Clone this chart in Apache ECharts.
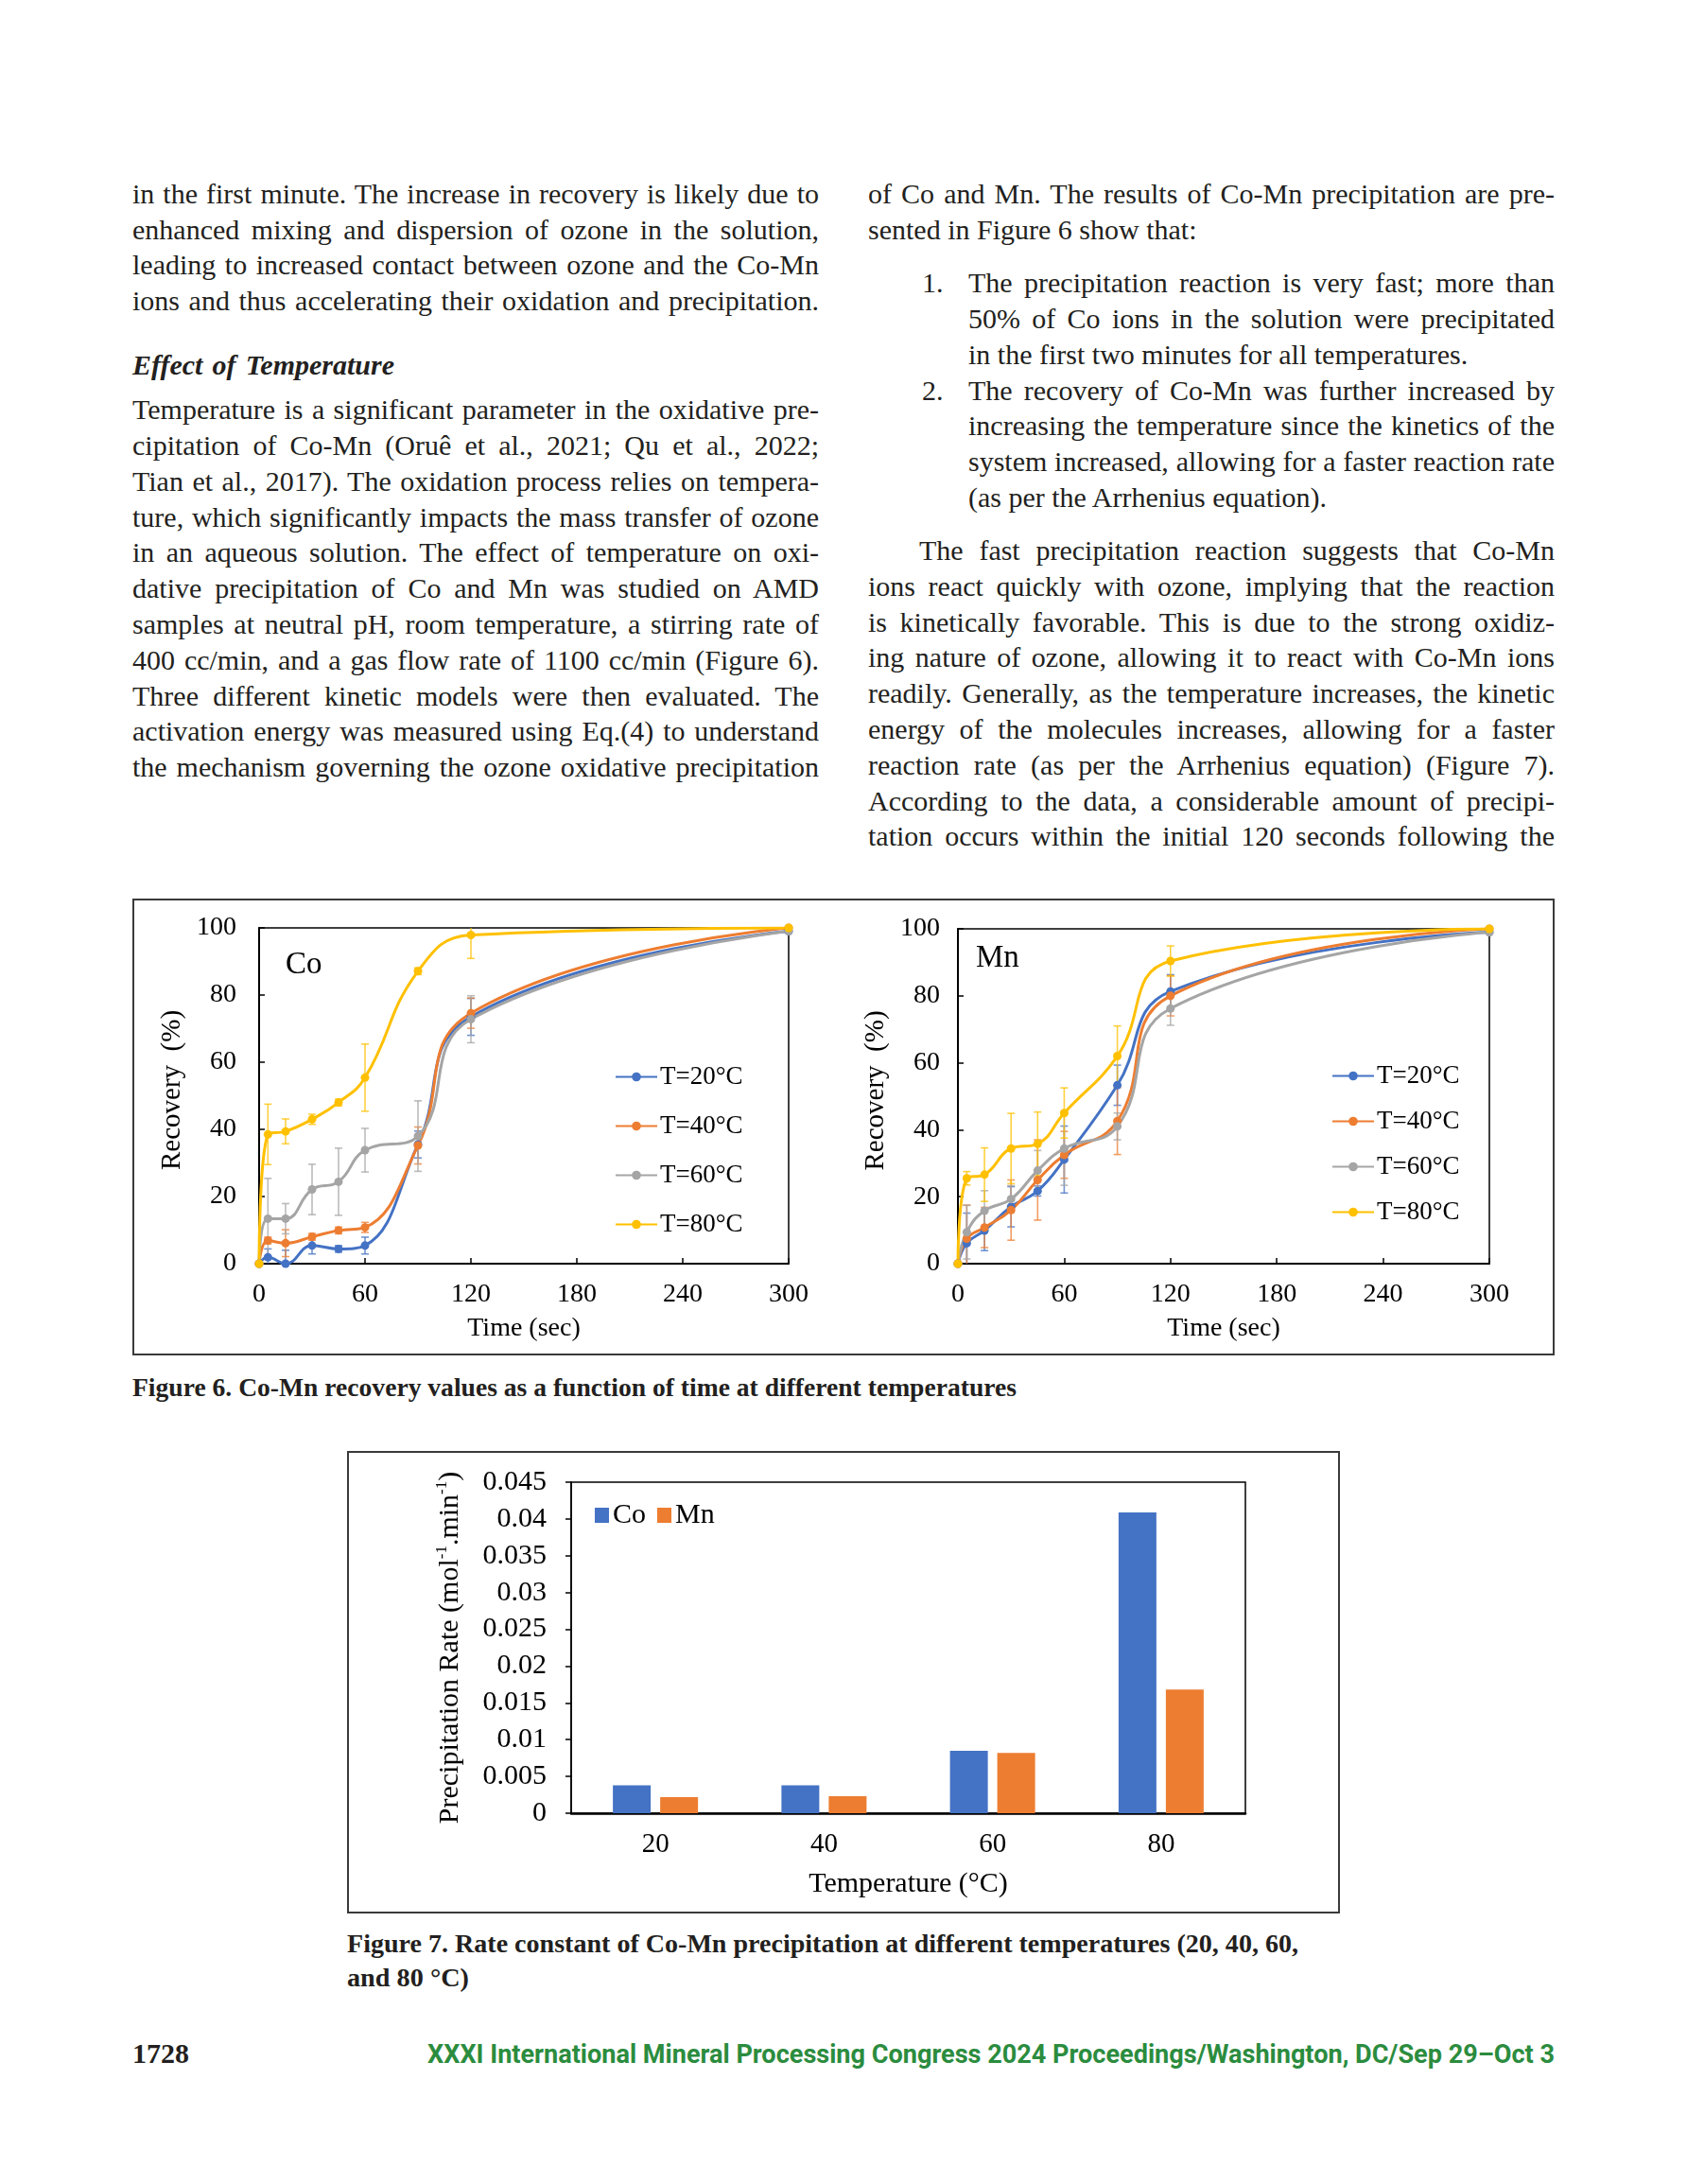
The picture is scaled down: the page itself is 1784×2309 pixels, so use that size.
<!DOCTYPE html>
<html><head><meta charset="utf-8">
<script src="https://cdn.jsdelivr.net/npm/echarts@6/dist/echarts.min.js"></script>
<style>
html,body{margin:0;padding:0;background:#fff;}
body{width:1784px;height:2309px;position:relative;overflow:hidden;font-family:'Liberation Serif',serif;color:#231f20;}
.ln{position:absolute;white-space:nowrap;font-size:30px;line-height:38px;height:38px;display:inline-block;}
.chart{position:absolute;}
.box{position:absolute;border:2px solid #3a3a3a;box-sizing:border-box;pointer-events:none;}
.cap{position:absolute;white-space:nowrap;font-weight:bold;font-size:28px;line-height:36px;transform-origin:0 50%;}
.foot{position:absolute;white-space:nowrap;transform-origin:0 50%;}
</style></head><body>
<div id="textLayer"></div>
<div class="box" style="left:140px;top:950px;width:1504px;height:483px;"></div>
<div id="coChart" class="chart" style="left:142px;top:952px;width:736px;height:479px;"></div>
<div id="mnChart" class="chart" style="left:880px;top:952px;width:762px;height:479px;"></div>
<div class="box" style="left:367px;top:1534px;width:1050px;height:489px;"></div>
<div id="barChart" class="chart" style="left:369px;top:1536px;width:1046px;height:485px;"></div>
<script>
// ---------------- DATA ----------------
const timeSec = [0, 5, 15, 30, 45, 60, 90, 120, 300];
const seriesNames = ['T=20°C', 'T=40°C', 'T=60°C', 'T=80°C'];

const coT20 = [0, 1.9, 0, 5.4, 4.4, 5.4, 35.5, 73.5, 99];
const coT40 = [0, 6.9, 6.1, 8.0, 9.9, 10.8, 35.2, 74.6, 100];
const coT60 = [0, 13.4, 13.4, 22.1, 24.4, 33.8, 38, 72.8, 99];
const coT80 = [0, 38.5, 39.4, 43, 48, 55.4, 87.1, 97.9, 100];
const coErr20 = [0, 2.5, 4, 2.5, 1, 2.5, 4, 5.5, 0];
const coErr40 = [0, 1, 4, 1, 1, 1.5, 5.5, 4.5, 0];
const coErr60 = [0, 12, 4.5, 7.5, 10, 6.5, 10.5, 7, 0];
const coErr80 = [0, 9, 3.7, 1.5, 1, 10, 1, 7, 0];

const mnT20 = [0, 6.1, 9.9, 17, 21.7, 31.1, 53.3, 81.3, 99];
const mnT40 = [0, 7.5, 10.8, 16, 25, 32.5, 42.6, 80, 100];
const mnT60 = [0, 9.4, 15.8, 19.3, 27.8, 34.4, 41, 76.2, 99];
const mnT80 = [0, 25.5, 26.6, 34.4, 35.8, 45, 62, 90.4, 100];
const mnErr20 = [0, 9, 6, 6, 1.5, 10, 6, 5, 0];
const mnErr40 = [0, 10, 6, 9, 12, 7, 10, 6, 0];
const mnErr60 = [0, 8, 6, 4, 6, 11, 4, 5, 0];
const mnErr80 = [0, 2, 8, 10.5, 9.5, 7.5, 9, 4.5, 0];

const tempCategories = ['20', '40', '60', '80'];
const rateCo = [0.0038, 0.0038, 0.0085, 0.0409];
const rateMn = [0.0022, 0.0023, 0.0082, 0.0168];

const timeTicks = { min: 0, max: 300, interval: 60 };
const recTicks = { min: 0, max: 100, interval: 20 };
const rateTicks = { min: 0, max: 0.045, interval: 0.005 };

// ---------------- STYLE ----------------
const COLORS = ['#4472C4', '#ED7D31', '#A5A5A5', '#FFC000'];
const FONT = 'Liberation Serif';

// ---------------- TEXT ----------------
const textLines = [
 ['in the first minute. The increase in recovery is likely due to', 140, 204.8, 726, true],
 ['enhanced mixing and dispersion of ozone in the solution,', 140, 242.6, 726, true],
 ['leading to increased contact between ozone and the Co-Mn', 140, 280.4, 726, true],
 ['ions and thus accelerating their oxidation and precipitation.', 140, 318.2, 726, true],
 ['Effect of Temperature', 140, 386, 277, true, 'bi'],
 ['Temperature is a significant parameter in the oxidative pre-', 140, 433.1, 726, true],
 ['cipitation of Co-Mn (Oruê et al., 2021; Qu et al., 2022;', 140, 470.9, 726, true],
 ['Tian et al., 2017). The oxidation process relies on tempera-', 140, 508.7, 726, true],
 ['ture, which significantly impacts the mass transfer of ozone', 140, 546.5, 726, true],
 ['in an aqueous solution. The effect of temperature on oxi-', 140, 584.3, 726, true],
 ['dative precipitation of Co and Mn was studied on AMD', 140, 622.1, 726, true],
 ['samples at neutral pH, room temperature, a stirring rate of', 140, 659.9, 726, true],
 ['400 cc/min, and a gas flow rate of 1100 cc/min (Figure 6).', 140, 697.7, 726, true],
 ['Three different kinetic models were then evaluated. The', 140, 735.5, 726, true],
 ['activation energy was measured using Eq.(4) to understand', 140, 773.3, 726, true],
 ['the mechanism governing the ozone oxidative precipitation', 140, 811.1, 726, true],

 ['of Co and Mn. The results of Co-Mn precipitation are pre-', 918, 204.8, 726, true],
 ['sented in Figure 6 show that:', 918, 242.6, 0, false],
 ['1.', 975, 299.1, 0, false],
 ['The precipitation reaction is very fast; more than', 1024, 299.1, 620, true],
 ['50% of Co ions in the solution were precipitated', 1024, 336.9, 620, true],
 ['in the first two minutes for all temperatures.', 1024, 374.7, 0, false],
 ['2.', 975, 412.5, 0, false],
 ['The recovery of Co-Mn was further increased by', 1024, 412.5, 620, true],
 ['increasing the temperature since the kinetics of the', 1024, 450.3, 620, true],
 ['system increased, allowing for a faster reaction rate', 1024, 488.1, 620, true],
 ['(as per the Arrhenius equation).', 1024, 525.9, 0, false],
 ['The fast precipitation reaction suggests that Co-Mn', 972, 581.9, 672, true],
 ['ions react quickly with ozone, implying that the reaction', 918, 619.7, 726, true],
 ['is kinetically favorable. This is due to the strong oxidiz-', 918, 657.5, 726, true],
 ['ing nature of ozone, allowing it to react with Co-Mn ions', 918, 695.3, 726, true],
 ['readily. Generally, as the temperature increases, the kinetic', 918, 733.1, 726, true],
 ['energy of the molecules increases, allowing for a faster', 918, 770.9, 726, true],
 ['reaction rate (as per the Arrhenius equation) (Figure 7).', 918, 808.7, 726, true],
 ['According to the data, a considerable amount of precipi-', 918, 846.5, 726, true],
 ['tation occurs within the initial 120 seconds following the', 918, 884.3, 726, true]
];
const layer = document.getElementById('textLayer');
textLines.forEach(([t, x, yc, w, just, st]) => {
  const s = document.createElement('span');
  s.className = 'ln';
  s.textContent = t;
  s.style.left = x + 'px';
  s.style.top = (yc - 19) + 'px';
  if (st === 'bi') { s.style.fontWeight = 'bold'; s.style.fontStyle = 'italic'; }
  layer.appendChild(s);
  if (just && w) {
    const nat = s.getBoundingClientRect().width;
    const n = (t.match(/ /g) || []).length;
    if (n) s.style.wordSpacing = ((w - nat) / n) + 'px';
  }
});

function fitSpan(cls, text, x, yc, w, extra) {
  const s = document.createElement('span');
  s.className = cls;
  s.textContent = text;
  s.style.left = x + 'px';
  Object.assign(s.style, extra || {});
  document.body.appendChild(s);
  const r = s.getBoundingClientRect();
  s.style.top = (yc - r.height / 2) + 'px';
  if (w) s.style.transform = 'scaleX(' + (w / r.width) + ')';
  return s;
}
fitSpan('cap', 'Figure 6. Co-Mn recovery values as a function of time at different temperatures', 140, 1467.3, 935);
fitSpan('cap', 'Figure 7. Rate constant of Co-Mn precipitation at different temperatures (20, 40, 60,', 367, 2055, 1006);
fitSpan('cap', 'and 80 °C)', 367, 2090.5, 129);
fitSpan('foot', '1728', 140, 2171.5, 60, {fontFamily: FONT, fontWeight: 'bold', fontSize: '29px', color: '#231f20'});
fitSpan('foot', 'XXXI International Mineral Processing Congress 2024 Proceedings/Washington, DC/Sep 29–Oct 3', 452, 2171.5, 1192,
  {fontFamily: 'Roboto, sans-serif', fontWeight: 'bold', fontSize: '27px', color: '#2b8c3e'});

// ---------------- LINE CHARTS ----------------
function errSeries(name, ys, es, color) {
  return {
    type: 'custom', name: name, silent: true, z: 1,
    itemStyle: { color: color },
    data: timeSec.map((x, i) => [x, ys[i], es[i]]).filter(d => d[2] > 0),
    renderItem: function (params, api) {
      const x = api.value(0), y = api.value(1), e = api.value(2);
      const hiV = y + e, loV = y - e;
      const top = api.coord([x, Math.min(100, hiV)]);
      const bot = api.coord([x, Math.max(0, loV)]);
      const cw = 4;
      const st = { stroke: color, lineWidth: 1.6, opacity: 0.75 };
      const ch = [{ type: 'line', shape: { x1: top[0], y1: top[1], x2: bot[0], y2: bot[1] }, style: st }];
      if (hiV <= 100) ch.push({ type: 'line', shape: { x1: top[0] - cw, y1: top[1], x2: top[0] + cw, y2: top[1] }, style: st });
      if (loV >= 0) ch.push({ type: 'line', shape: { x1: bot[0] - cw, y1: bot[1], x2: bot[0] + cw, y2: bot[1] }, style: st });
      return { type: 'group', children: ch };
    }
  };
}
function lineSeries(name, ys, color) {
  return {
    type: 'line', name: name, z: 3,
    data: timeSec.map((x, i) => [x, ys[i]]),
    smooth: 0.45,
    symbol: 'circle', symbolSize: 9,
    lineStyle: { width: 3, color: color },
    itemStyle: { color: color }
  };
}
function lineOption(sets, errs, label, grid, legendPos, labelPos, yMargin, yNameGap) {
  const series = [];
  sets.forEach((ys, k) => series.push(errSeries('err' + k, ys, errs[k], COLORS[k])));
  sets.forEach((ys, k) => series.push(lineSeries(seriesNames[k], ys, COLORS[k])));
  return {
    animation: false,
    textStyle: { fontFamily: FONT },
    grid: Object.assign({ show: true, borderColor: '#000', borderWidth: 1.5, backgroundColor: 'transparent' }, grid),
    xAxis: {
      type: 'value', min: timeTicks.min, max: timeTicks.max, interval: timeTicks.interval,
      name: 'Time (sec)', nameLocation: 'middle', nameGap: 55,
      nameTextStyle: { fontFamily: FONT, fontSize: 28, color: '#000' },
      axisLine: { show: true, lineStyle: { color: '#000', width: 2 } },
      axisTick: { show: true, inside: true, length: 6, lineStyle: { color: '#000', width: 1.5 } },
      axisLabel: { fontFamily: FONT, fontSize: 28, color: '#000', margin: 19 },
      splitLine: { show: false }
    },
    yAxis: {
      type: 'value', min: recTicks.min, max: recTicks.max, interval: recTicks.interval,
      name: 'Recovery  (%)', nameLocation: 'middle', nameGap: yNameGap, nameRotate: 90,
      nameTextStyle: { fontFamily: FONT, fontSize: 29, color: '#000', padding: [0, 0, 0, 12] },
      axisLine: { show: true, lineStyle: { color: '#000', width: 2 } },
      axisTick: { show: true, inside: true, length: 6, lineStyle: { color: '#000', width: 1.5 } },
      axisLabel: { fontFamily: FONT, fontSize: 28, color: '#000', margin: yMargin },
      splitLine: { show: false }
    },
    legend: Object.assign({
      orient: 'vertical', data: seriesNames, itemWidth: 44, itemHeight: 12,
      textStyle: { fontFamily: FONT, fontSize: 27, color: '#000', padding: [0, 0, 0, -2] }
    }, legendPos),
    graphic: [{ type: 'text', left: labelPos.left, top: labelPos.top,
      style: { text: label, font: '33px "Liberation Serif"', fill: '#000' } }],
    series: series
  };
}
const coChart = echarts.init(document.getElementById('coChart'), null, { renderer: 'canvas' });
coChart.setOption(lineOption([coT20, coT40, coT60, coT80], [coErr20, coErr40, coErr60, coErr80], 'Co',
  { left: 132, top: 29, width: 560, height: 355 }, { left: 503, top: 168, itemGap: 25 }, { left: 160, top: 52 }, 24, 67));
const mnChart = echarts.init(document.getElementById('mnChart'), null, { renderer: 'canvas' });
mnChart.setOption(lineOption([mnT20, mnT40, mnT60, mnT80], [mnErr20, mnErr40, mnErr60, mnErr80], 'Mn',
  { left: 133, top: 30, width: 562, height: 354 }, { left: 523, top: 167, itemGap: 21 }, { left: 152, top: 45 }, 19, 70));

// ---------------- BAR CHART ----------------
const barChart = echarts.init(document.getElementById('barChart'), null, { renderer: 'canvas' });
barChart.setOption({
  animation: false,
  textStyle: { fontFamily: FONT },
  grid: { left: 235, top: 31, width: 713, height: 350, show: true, borderColor: '#000', borderWidth: 1.5 },
  legend: {
    left: 255, top: 46, itemWidth: 15, itemHeight: 16, itemGap: 12, icon: 'rect',
    data: ['Co', 'Mn'],
    textStyle: { fontFamily: FONT, fontSize: 30, color: '#000', padding: [0, 0, 0, -1] }
  },
  xAxis: {
    type: 'category', data: tempCategories,
    name: 'Temperature (°C)', nameLocation: 'middle', nameGap: 60,
    nameTextStyle: { fontFamily: FONT, fontSize: 30, color: '#000' },
    axisLine: { lineStyle: { color: '#000', width: 2.5 } },
    axisTick: { show: false },
    axisLabel: { fontFamily: FONT, fontSize: 29, color: '#000', margin: 19 }
  },
  yAxis: {
    type: 'value', min: rateTicks.min, max: rateTicks.max, interval: rateTicks.interval,
    name: 'Precipitation Rate (mol{s|-1}.min{s|-1})', nameLocation: 'middle', nameGap: 111, nameRotate: 90,
    nameTextStyle: { fontFamily: FONT, fontSize: 30, color: '#000', lineHeight: 34,
      rich: { s: { fontFamily: FONT, fontSize: 17, lineHeight: 16, verticalAlign: 'top', color: '#000' } } },
    axisLine: { show: true, lineStyle: { color: '#000', width: 1.5 } },
    axisTick: { show: true, inside: false, length: 6, lineStyle: { color: '#000', width: 1.5 } },
    axisLabel: { fontFamily: FONT, fontSize: 30, color: '#000', margin: 26,
      formatter: v => String(Number(v.toFixed(3))) },
    splitLine: { show: false }
  },
  series: [
    { type: 'bar', name: 'Co', data: rateCo, barWidth: 40, barGap: '25%', itemStyle: { color: '#4472C4' } },
    { type: 'bar', name: 'Mn', data: rateMn, barWidth: 40, itemStyle: { color: '#ED7D31' } }
  ]
});
</script>
</body></html>
